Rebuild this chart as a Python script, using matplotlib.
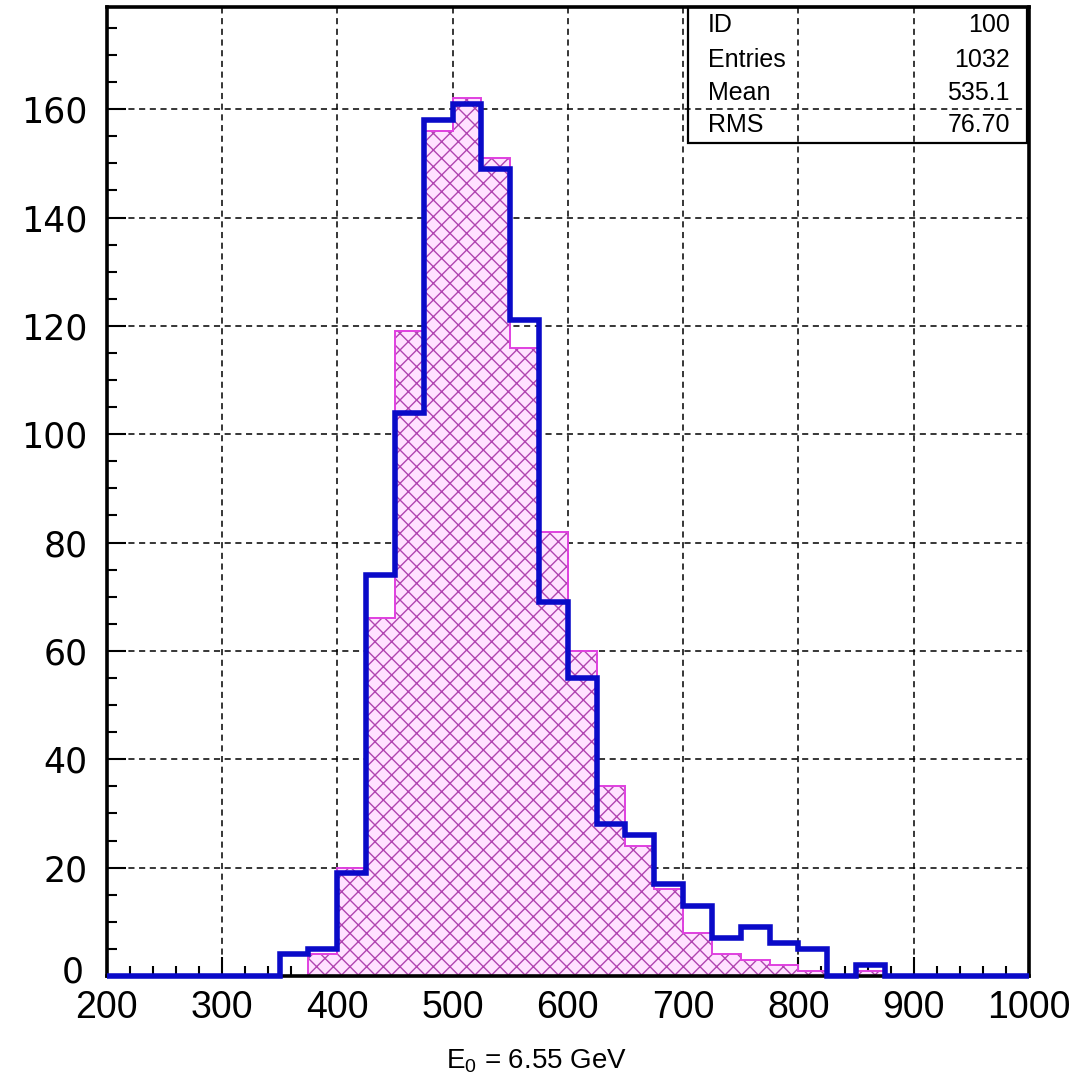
import matplotlib
matplotlib.use("Agg")
import matplotlib.pyplot as plt
import matplotlib.transforms as mtransforms
import numpy as np
from matplotlib.ticker import MultipleLocator

# ---- data ----
bin_edges = list(range(200, 1001, 25))
blue_counts = [0, 0, 0, 0, 0, 0, 4, 5, 19, 74, 104, 158, 161, 149, 121, 69,
               55, 28, 26, 17, 13, 7, 9, 6, 5, 0, 2, 0, 0, 0, 0, 0]
magenta_counts = [0, 0, 0, 0, 0, 0, 0, 4, 20, 66, 119, 156, 162, 151, 116, 82,
                  60, 35, 24, 16, 8, 4, 3, 2, 1, 0, 1, 0, 0, 0, 0, 0]
x_ticks = [200, 300, 400, 500, 600, 700, 800, 900, 1000]
y_ticks = [0, 20, 40, 60, 80, 100, 120, 140, 160]
stats_labels = ["ID", "Entries", "Mean", "RMS"]
stats_values = ["100", "1032", "535.1", "76.70"]
x_label = r"E$_0$ = 6.55 GeV"

plt.rcParams["mathtext.default"] = "regular"
plt.rcParams["hatch.linewidth"] = 1.0

W, H = 1092, 1073
fig = plt.figure(figsize=(W / 100, H / 100), dpi=100)
ax = fig.add_axes([106.7 / W, 1 - 976 / H, (1029 - 106.7) / W, (976 - 7.3) / H])

ax.set_xlim(200, 1000)
ax.set_ylim(0, 178.8)

# magenta hatched histogram
ax.stairs(magenta_counts, bin_edges, fill=True, facecolor="#ffe2ff",
          edgecolor="#b044b0", hatch="xx", linewidth=0, zorder=2)
ax.stairs(magenta_counts, bin_edges, fill=False, color="#e040e0",
          linewidth=1.4, zorder=3)
# blue histogram
ax.stairs(blue_counts, bin_edges, fill=False, color="#0a0ac8",
          linewidth=4.0, zorder=4, clip_on=False)

# grid
ax.set_xticks(x_ticks)
ax.set_yticks(y_ticks)
ax.xaxis.set_minor_locator(MultipleLocator(20))
ax.yaxis.set_minor_locator(MultipleLocator(5))
ax.grid(True, which="major", color="black", linestyle=(0, (4, 3)),
        linewidth=1.1, zorder=1)
ax.set_axisbelow(True)

for s in ax.spines.values():
    s.set_linewidth(2.6)
    s.set_zorder(3.5)

ax.tick_params(which="major", direction="in", length=14, width=1.5,
               top=False, right=False)
ax.tick_params(which="minor", direction="in", length=7, width=1.5,
               top=False, right=False)
ax.tick_params(axis="x", which="major", pad=10)
ax.tick_params(axis="y", which="major", pad=14)

ax.set_xticklabels([str(v) for v in x_ticks], fontsize=27,
                   family="Liberation Sans")
ax.set_yticklabels([str(v) for v in y_ticks], fontsize=25,
                   family="DejaVu Sans")

# nudge the y "0" label slightly up/left so it sits beside the "200" label
lbl0 = ax.get_yticklabels()[0]
lbl0.set_transform(lbl0.get_transform() +
                   mtransforms.ScaledTranslation(-4 / 100, 7 / 100, fig.dpi_scale_trans))

# stats box (transparent)
bx0, bx1, by0, by1 = 688, 1027, 7.3, 143
box = plt.Rectangle((bx0 / W, 1 - by1 / H), (bx1 - bx0) / W, (by1 - by0) / H,
                    transform=fig.transFigure, fill=False, edgecolor="black",
                    linewidth=1.6, zorder=5)
fig.patches.append(box)
row_y = [25, 60, 93, 125]
for lab, val, ry in zip(stats_labels, stats_values, row_y):
    fig.text(708 / W, 1 - ry / H, lab, ha="left", va="center", fontsize=18,
             family="Liberation Sans")
    fig.text(1010 / W, 1 - ry / H, val, ha="right", va="center", fontsize=18,
             family="Liberation Sans")

fig.text(537 / W, 1 - 1061 / H, x_label, ha="center", va="center",
         fontsize=20, family="Liberation Sans")

fig.savefig("out.png", dpi=100, facecolor="white")
